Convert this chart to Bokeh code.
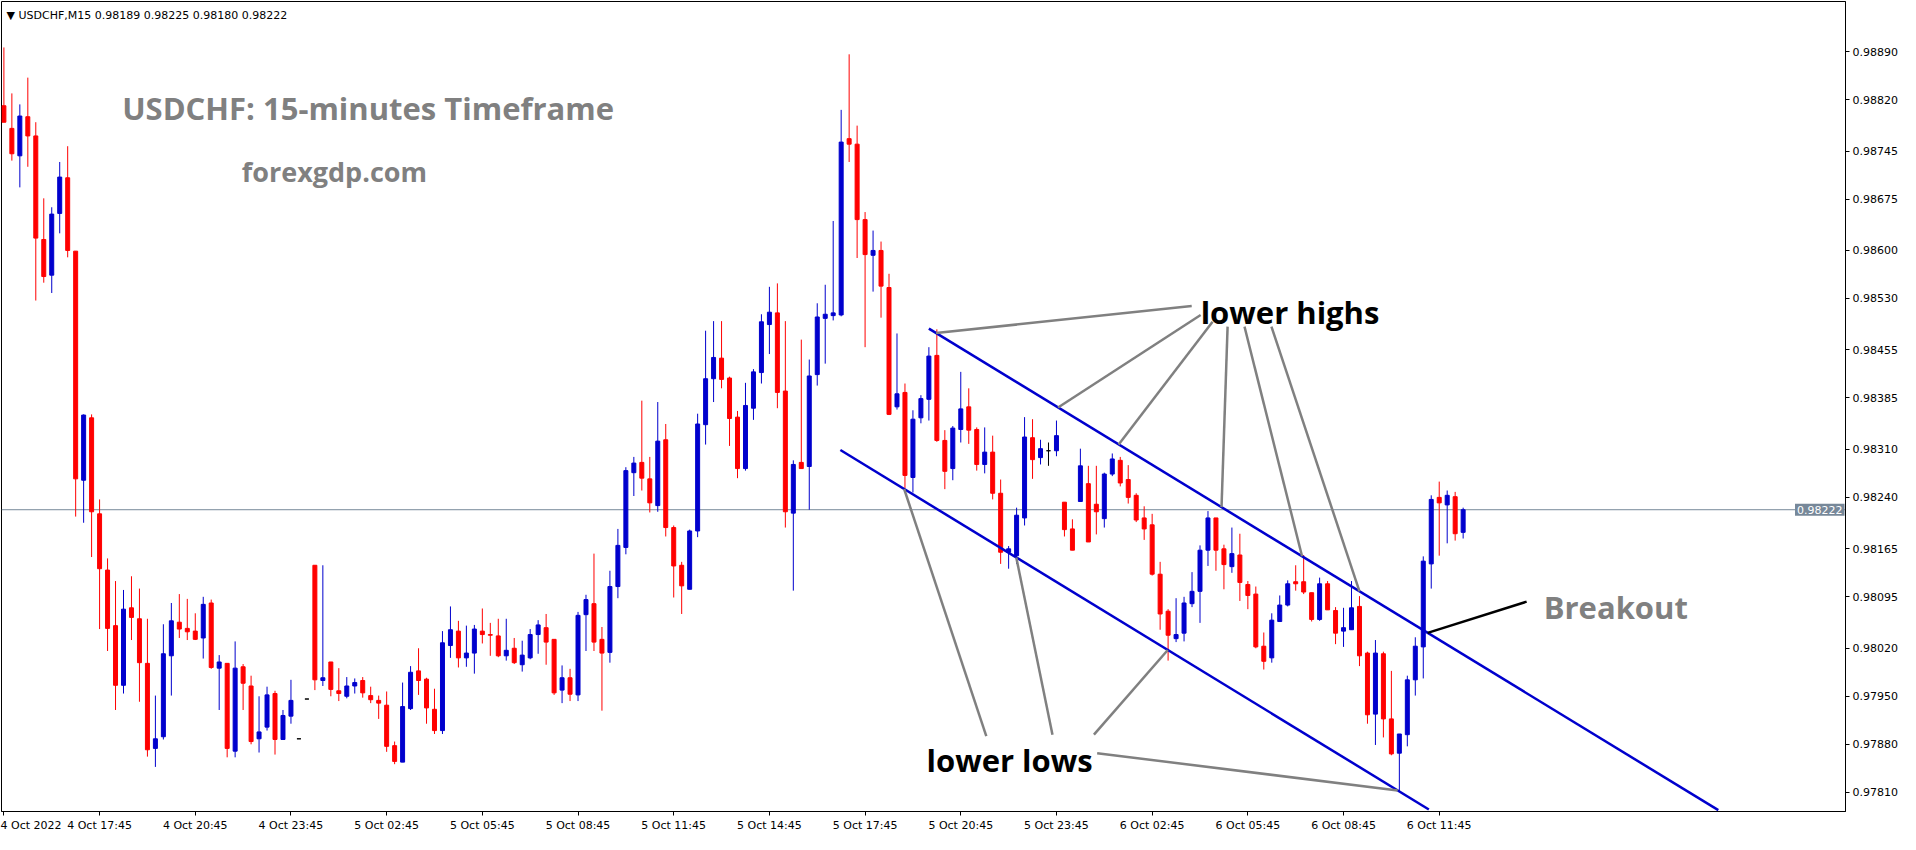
from bokeh.plotting import figure
from bokeh.models import Range1d, FixedTicker, PrintfTickFormatter, Label, Span, ColumnDataSource
from bokeh.embed import file_html
from bokeh.resources import INLINE

symbol = "USDCHF,M15"

# OHLC of 15-minute bars, bar 0 = 4 Oct 2022 14:45
opens = [0.98811, 0.98778, 0.98738, 0.98795, 0.98767, 0.98616, 0.98564, 0.98654, 0.98706, 0.98599,
         0.98265, 0.98356, 0.98216, 0.98134, 0.98053, 0.97966, 0.98079, 0.98063, 0.97998, 0.97874,
         0.97891, 0.98009, 0.98058, 0.98049, 0.98045, 0.98035, 0.98086, 0.97991, 0.97998, 0.97870,
         0.97993, 0.97965, 0.97888, 0.97905, 0.97954, 0.97887, 0.97921, 0.97888, 0.97946, 0.98141,
         0.97973, 0.98000, 0.97958, 0.97950, 0.97965, 0.97973, 0.97951, 0.97944, 0.97937, 0.97878,
         0.97854, 0.97932, 0.97987, 0.97975, 0.97931, 0.97900, 0.98024, 0.98045, 0.98006, 0.98013,
         0.98045, 0.98040, 0.98038, 0.98009, 0.98020, 0.97996, 0.98006, 0.98040, 0.98050, 0.98033,
         0.97959, 0.97977, 0.97952, 0.98069, 0.98085, 0.98033, 0.98014, 0.98110, 0.98167, 0.98276,
         0.98291, 0.98267, 0.98228, 0.98324, 0.98196, 0.98141, 0.98106, 0.98191, 0.98346, 0.98413,
         0.98443, 0.98414, 0.98357, 0.98282, 0.98370, 0.98422, 0.98492, 0.98509, 0.98395, 0.98217,
         0.98291, 0.98285, 0.98419, 0.98501, 0.98505, 0.98506, 0.98763, 0.98755, 0.98645, 0.98593,
         0.98600, 0.98546, 0.98372, 0.98393, 0.98269, 0.98356, 0.98383, 0.98447, 0.98323, 0.98282,
         0.98339, 0.98372, 0.98339, 0.98288, 0.98306, 0.98246, 0.98160, 0.98155, 0.98210, 0.98327,
         0.98298, 0.98308, 0.98308, 0.98233, 0.98194, 0.98234, 0.98260, 0.98230, 0.98209, 0.98274,
         0.98294, 0.98266, 0.98243, 0.98210, 0.98200, 0.98128, 0.98074, 0.98034, 0.98042, 0.98085,
         0.98103, 0.98163, 0.98210, 0.98165, 0.98139, 0.98156, 0.98113, 0.98099, 0.98023, 0.98006,
         0.98059, 0.98083, 0.98117, 0.98117, 0.98101, 0.98062, 0.98114, 0.98075, 0.98045, 0.98047,
         0.98081, 0.98013, 0.97924, 0.98012, 0.97917, 0.97867, 0.97894, 0.97974, 0.98022, 0.98143,
         0.98240, 0.98229, 0.98241, 0.98189]
highs = [0.98896, 0.98829, 0.98813, 0.98852, 0.98787, 0.98676, 0.98663, 0.98729, 0.98752, 0.98599,
         0.98361, 0.98361, 0.98237, 0.98151, 0.98118, 0.98105, 0.98125, 0.98107, 0.98063, 0.97951,
         0.98055, 0.98086, 0.98099, 0.98092, 0.98071, 0.98095, 0.98091, 0.98010, 0.97998, 0.98030,
         0.97997, 0.97980, 0.97950, 0.97964, 0.97958, 0.97930, 0.97974, 0.97888, 0.97946, 0.98141,
         0.98141, 0.98000, 0.97991, 0.97978, 0.97976, 0.97978, 0.97964, 0.97951, 0.97957, 0.97884,
         0.97970, 0.97994, 0.98020, 0.97977, 0.97961, 0.98045, 0.98081, 0.98060, 0.98053, 0.98054,
         0.98078, 0.98057, 0.98063, 0.98063, 0.98035, 0.98031, 0.98048, 0.98061, 0.98070, 0.98033,
         0.97995, 0.97990, 0.98073, 0.98098, 0.98158, 0.98051, 0.98133, 0.98194, 0.98284, 0.98299,
         0.98381, 0.98299, 0.98379, 0.98347, 0.98199, 0.98146, 0.98193, 0.98362, 0.98483, 0.98497,
         0.98497, 0.98416, 0.98366, 0.98407, 0.98427, 0.98507, 0.98547, 0.98552, 0.98497, 0.98294,
         0.98470, 0.98441, 0.98523, 0.98550, 0.98643, 0.98805, 0.98886, 0.98782, 0.98656, 0.98629,
         0.98613, 0.98566, 0.98479, 0.98406, 0.98367, 0.98389, 0.98459, 0.98485, 0.98338, 0.98344,
         0.98423, 0.98399, 0.98342, 0.98342, 0.98330, 0.98266, 0.98169, 0.98225, 0.98357, 0.98354,
         0.98324, 0.98320, 0.98352, 0.98233, 0.98208, 0.98311, 0.98286, 0.98286, 0.98276, 0.98304,
         0.98299, 0.98287, 0.98246, 0.98227, 0.98216, 0.98146, 0.98077, 0.98093, 0.98095, 0.98131,
         0.98170, 0.98220, 0.98210, 0.98171, 0.98196, 0.98187, 0.98118, 0.98110, 0.98043, 0.98071,
         0.98097, 0.98119, 0.98141, 0.98156, 0.98101, 0.98123, 0.98118, 0.98080, 0.98079, 0.98118,
         0.98096, 0.98015, 0.98032, 0.98015, 0.97987, 0.97895, 0.97980, 0.98036, 0.98154, 0.98243,
         0.98263, 0.98250, 0.98248, 0.98225]
lows = [0.98787, 0.98731, 0.98692, 0.98722, 0.98527, 0.98553, 0.98538, 0.98625, 0.98590, 0.98212,
        0.98203, 0.98153, 0.98048, 0.98016, 0.97930, 0.97954, 0.98032, 0.97942, 0.97862, 0.97847,
        0.97887, 0.97951, 0.98035, 0.98032, 0.98032, 0.98005, 0.97990, 0.97930, 0.97861, 0.97861,
        0.97930, 0.97880, 0.97868, 0.97900, 0.97865, 0.97887, 0.97910, 0.97888, 0.97946, 0.97959,
        0.97965, 0.97950, 0.97943, 0.97947, 0.97954, 0.97948, 0.97940, 0.97917, 0.97869, 0.97851,
        0.97854, 0.97930, 0.97952, 0.97910, 0.97895, 0.97895, 0.98006, 0.97992, 0.97993, 0.97983,
        0.98027, 0.98009, 0.98007, 0.98002, 0.97997, 0.97986, 0.98004, 0.98012, 0.97996, 0.97952,
        0.97940, 0.97943, 0.97943, 0.98016, 0.98016, 0.97929, 0.97999, 0.98093, 0.98157, 0.98242,
        0.98250, 0.98218, 0.98219, 0.98183, 0.98094, 0.98070, 0.98106, 0.98182, 0.98317, 0.98379,
        0.98399, 0.98315, 0.98268, 0.98279, 0.98353, 0.98406, 0.98449, 0.98370, 0.98196, 0.98104,
        0.98282, 0.98222, 0.98403, 0.98435, 0.98498, 0.98504, 0.98729, 0.98589, 0.98459, 0.98540,
        0.98502, 0.98360, 0.98368, 0.98253, 0.98247, 0.98348, 0.98352, 0.98321, 0.98252, 0.98265,
        0.98320, 0.98318, 0.98279, 0.98275, 0.98237, 0.98143, 0.98136, 0.98143, 0.98199, 0.98267,
        0.98288, 0.98286, 0.98300, 0.98183, 0.98163, 0.98234, 0.98175, 0.98186, 0.98196, 0.98271,
        0.98256, 0.98231, 0.98204, 0.98178, 0.98126, 0.98047, 0.98002, 0.98029, 0.98030, 0.98080,
        0.98057, 0.98140, 0.98133, 0.98106, 0.98130, 0.98089, 0.98077, 0.98020, 0.97989, 0.97999,
        0.98059, 0.98081, 0.98104, 0.98099, 0.98059, 0.98060, 0.98076, 0.98026, 0.98022, 0.98047,
        0.97994, 0.97910, 0.97879, 0.97890, 0.97864, 0.97812, 0.97877, 0.97951, 0.97976, 0.98107,
        0.98155, 0.98173, 0.98177, 0.98180]
closes = [0.98787, 0.98741, 0.98796, 0.98767, 0.98618, 0.98562, 0.98653, 0.98707, 0.98600, 0.98267,
          0.98360, 0.98219, 0.98136, 0.98049, 0.97966, 0.98077, 0.98065, 0.97999, 0.97872, 0.97888,
          0.98012, 0.98060, 0.98048, 0.98044, 0.98033, 0.98084, 0.97992, 0.98000, 0.97874, 0.97991,
          0.97969, 0.97884, 0.97898, 0.97952, 0.97887, 0.97922, 0.97944, 0.97888, 0.97946, 0.97974,
          0.97977, 0.97960, 0.97954, 0.97965, 0.97970, 0.97955, 0.97945, 0.97940, 0.97877, 0.97855,
          0.97935, 0.97985, 0.97973, 0.97933, 0.97900, 0.98028, 0.98047, 0.98006, 0.98013, 0.98048,
          0.98040, 0.98039, 0.98009, 0.98017, 0.97999, 0.98010, 0.98040, 0.98054, 0.98029, 0.97955,
          0.97977, 0.97953, 0.98068, 0.98091, 0.98029, 0.98013, 0.98110, 0.98170, 0.98279, 0.98290,
          0.98268, 0.98232, 0.98322, 0.98196, 0.98140, 0.98111, 0.98191, 0.98347, 0.98413, 0.98444,
          0.98412, 0.98355, 0.98282, 0.98374, 0.98423, 0.98496, 0.98510, 0.98393, 0.98219, 0.98288,
          0.98282, 0.98417, 0.98503, 0.98507, 0.98509, 0.98758, 0.98755, 0.98645, 0.98594, 0.98600,
          0.98548, 0.98361, 0.98391, 0.98272, 0.98354, 0.98384, 0.98446, 0.98323, 0.98278, 0.98341,
          0.98369, 0.98338, 0.98288, 0.98306, 0.98246, 0.98160, 0.98165, 0.98214, 0.98328, 0.98295,
          0.98311, 0.98308, 0.98330, 0.98193, 0.98163, 0.98286, 0.98175, 0.98219, 0.98274, 0.98296,
          0.98261, 0.98240, 0.98207, 0.98194, 0.98128, 0.98070, 0.98039, 0.98040, 0.98086, 0.98103,
          0.98163, 0.98210, 0.98163, 0.98142, 0.98158, 0.98116, 0.98097, 0.98022, 0.98001, 0.98061,
          0.98083, 0.98114, 0.98114, 0.98102, 0.98062, 0.98114, 0.98076, 0.98042, 0.98050, 0.98079,
          0.98009, 0.97923, 0.98013, 0.97917, 0.97866, 0.97895, 0.97974, 0.98023, 0.98147, 0.98237,
          0.98232, 0.98243, 0.98187, 0.98222]

time_tick_bars = [0, 12, 24, 36, 48, 60, 72, 84, 96, 108, 120, 132, 144, 156, 168, 180]
time_tick_labels = ["4 Oct 2022", "4 Oct 17:45", "4 Oct 20:45", "4 Oct 23:45", "5 Oct 02:45",
                    "5 Oct 05:45", "5 Oct 08:45", "5 Oct 11:45", "5 Oct 14:45", "5 Oct 17:45",
                    "5 Oct 20:45", "5 Oct 23:45", "6 Oct 02:45", "6 Oct 05:45", "6 Oct 08:45",
                    "6 Oct 11:45"]
price_ticks = [0.97810, 0.97880, 0.97950, 0.98020, 0.98095, 0.98165, 0.98240, 0.98310,
               0.98385, 0.98455, 0.98530, 0.98600, 0.98675, 0.98745, 0.98820, 0.98890]

# annotation anchors (bar index, price)
upper_channel = [(116.0, 0.98486), (215.0, 0.97784)]
lower_channel = [(104.9, 0.98309), (178.7, 0.97785)]
highs_label_starts = [(148.96, 0.98519), (150.08, 0.98506), (151.58, 0.98496),
                      (153.46, 0.98489), (155.58, 0.98489), (158.96, 0.98489)]
highs_touch_bars = [116.9, 132.2, 139.8, 152.7, 162.8, 170.0]
lows_label_starts = [(123.2, 0.97892), (131.5, 0.97894), (136.7, 0.97894), (137.1, 0.97867)]
lows_touch_bars = [112.9, 126.96, 145.96, 174.8]
breakout_bar = 178.55
breakout_label_end = (190.96, 0.98088)

RED = "#FF0000"
BLUE = "#0000CD"

n = len(opens)
idx = list(range(n))
colors = [BLUE if c > o else (RED if c < o else "black") for o, c in zip(opens, closes)]
src = ColumnDataSource(dict(
    x=idx, o=opens, h=highs, l=lows, c=closes, color=colors,
    top=[max(o, c) for o, c in zip(opens, closes)],
    bottom=[min(o, c) for o, c in zip(opens, closes)],
))


def chan(line, x):
    (x0, y0), (x1, y1) = line
    return y0 + (y1 - y0) * (x - x0) / (x1 - x0)


X_END = 230.95
p = figure(width=1900, height=834,
           x_range=Range1d(-0.3, X_END), y_range=Range1d(0.97782, 0.98963),
           y_axis_location="right", output_backend="svg", toolbar_location=None,
           min_border=0, min_border_left=1, min_border_top=1)
p.grid.visible = False
p.outline_line_color = "black"
p.outline_line_width = 1
p.background_fill_color = "white"

for ax in (p.xaxis[0], p.yaxis[0]):
    ax.axis_line_color = "black"
    ax.major_tick_line_color = "black"
    ax.major_tick_in = 0
    ax.major_tick_out = 4
    ax.minor_tick_line_color = None
    ax.major_label_text_font = "DejaVu Sans"
    ax.major_label_text_font_size = "11px"
    ax.major_label_text_color = "black"
    ax.major_label_standoff = 3

p.yaxis.ticker = FixedTicker(ticks=price_ticks)
p.yaxis.formatter = PrintfTickFormatter(format="%.5f")
p.xaxis.ticker = FixedTicker(ticks=time_tick_bars)
p.xaxis.major_label_overrides = {b: t for b, t in zip(time_tick_bars, time_tick_labels)}
p.xaxis.major_label_text_align = "left"

bid = closes[-1]
p.add_layout(Span(location=bid, dimension="width", line_color="#778899", line_width=1,
                  level="underlay"))

p.segment(x0="x", y0="l", x1="x", y1="h", color="color", line_width=1, source=src)
p.vbar(x="x", bottom="bottom", top="top", width=0.5, fill_color="color",
       line_color="color", line_width=1, source=src)

# channel lines
for line in (upper_channel, lower_channel):
    p.line(x=[line[0][0], line[1][0]], y=[line[0][1], line[1][1]],
           line_color=BLUE, line_width=2.5)

# pointer lines
gx0, gy0, gx1, gy1 = [], [], [], []
for (sx, sy), tb in zip(highs_label_starts, highs_touch_bars):
    gx0.append(sx); gy0.append(sy); gx1.append(tb); gy1.append(chan(upper_channel, tb))
for (sx, sy), tb in zip(lows_label_starts, lows_touch_bars):
    gx0.append(sx); gy0.append(sy); gx1.append(tb); gy1.append(chan(lower_channel, tb))
p.segment(x0=gx0, y0=gy0, x1=gx1, y1=gy1, line_color="#808080", line_width=2.5)

p.segment(x0=[breakout_bar], y0=[chan(upper_channel, breakout_bar)],
          x1=[breakout_label_end[0]], y1=[breakout_label_end[1]],
          line_color="black", line_width=2.5)


def add_text(x, y, text, size, color, bold=True, font="Open Sans"):
    p.add_layout(Label(x=x, y=y, text=text, text_font=font, text_font_size=size,
                       text_color=color, text_font_style="bold" if bold else "normal",
                       text_baseline="alphabetic", text_align="left"))


add_text(14.83, 0.98808, "USDCHF: 15-minutes Timeframe", "31px", "#808080")
add_text(29.83, 0.98715, "forexgdp.com", "27px", "#808080")
add_text(150.08, 0.98511, "lower highs", "31px", "black")
add_text(115.7, 0.97857, "lower lows", "31px", "black")
add_text(193.1, 0.98080, "Breakout", "31px", "#808080")

header = "\u25BC %s  %.5f %.5f %.5f %.5f" % (symbol, opens[-1], highs[-1], lows[-1], closes[-1])
add_text(0.33, 0.98943, header, "11px", "black", bold=False, font="DejaVu Sans")

# current price tag at the right edge of the chart area
p.add_layout(Label(x=X_END, y=bid, x_offset=-1, text="%.5f" % bid, text_font="DejaVu Sans",
                   text_font_size="11px", text_color="white", text_baseline="middle",
                   text_align="right", background_fill_color="#778899", padding=2))

open("out.html", "w").write(file_html(p, INLINE))
